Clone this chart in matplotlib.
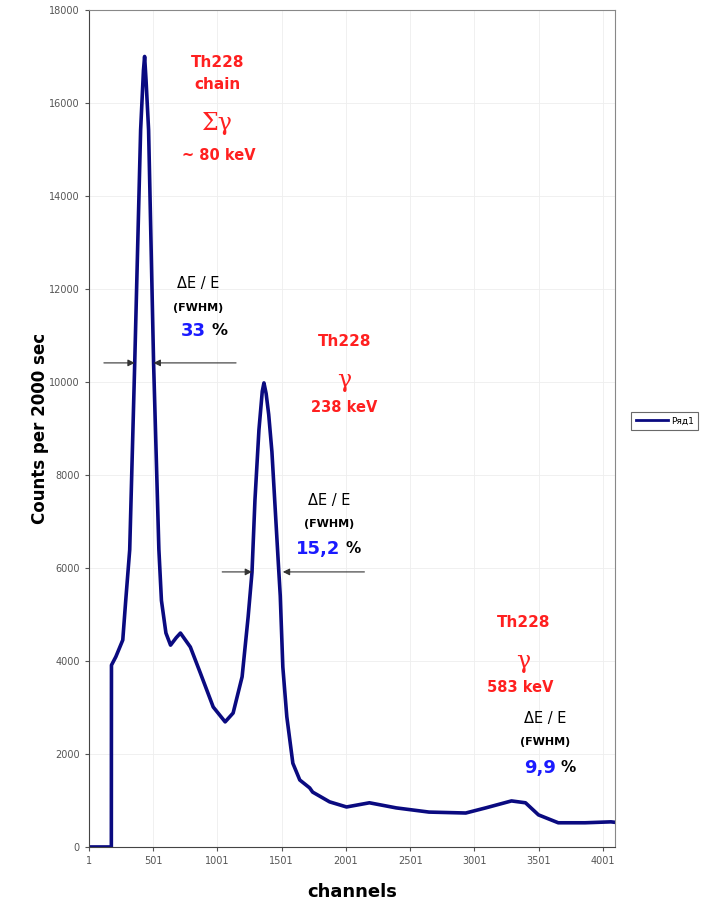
import numpy as np
import matplotlib.pyplot as plt

# spectrum (channel, counts per 2000 s)
channels = [1, 175, 176, 210, 264, 287, 318, 357, 403, 425, 434, 445, 465, 504,
            545, 565, 600, 636, 680, 713, 790, 868, 968, 1061, 1123, 1193, 1240,
            1270, 1293, 1324, 1350, 1363, 1380, 1400, 1425, 1450, 1475, 1490,
            1510, 1541, 1588, 1642, 1719, 1742, 1874, 2006, 2184, 2393, 2648,
            2934, 3089, 3290, 3399, 3500, 3654, 3863, 4064, 4096]
counts = [0, 0, 3910, 4090, 4450, 5300, 6390, 10400, 15420, 16700, 17000, 16500,
          15420, 10400, 6400, 5300, 4600, 4340, 4500, 4600, 4300, 3740, 3010,
          2690, 2880, 3660, 4950, 5910, 7460, 8970, 9800, 9980, 9750, 9300,
          8500, 7300, 6100, 5400, 3870, 2800, 1800, 1440, 1270, 1180, 970, 860,
          950, 840, 750, 730, 840, 990, 950, 690, 520, 520, 540, 530]

xticks = [1, 501, 1001, 1501, 2001, 2501, 3001, 3501, 4001]
yticks = list(range(0, 18001, 2000))

red = '#ff2020'
blue = '#1a1aff'

fig = plt.figure(figsize=(7.13, 9.07), dpi=100)
ax = fig.add_axes([0.1248, 0.0662, 0.8626 - 0.1248, 0.989 - 0.0662])

ax.plot(channels, counts, color='#0a0a80', lw=2.6, label='Ряд1')

ax.set_xlim(1, 4096)
ax.set_ylim(0, 18000)
ax.set_xticks(xticks)
ax.set_yticks(yticks)
ax.tick_params(labelsize=7, labelcolor='#555555', color='#555555', length=3)
ax.grid(True, color='#eeeeee', lw=0.6)
ax.set_axisbelow(True)
for s in ax.spines.values():
    s.set_color('#888888')
ax.spines['left'].set_color('#444444')
ax.spines['bottom'].set_color('#444444')

ax.set_ylabel('Counts per 2000 sec', fontsize=12, fontweight='bold', labelpad=0)
ax.set_xlabel('channels', fontsize=13, fontweight='bold', labelpad=12)

# annotations
def txt(x, y, s, color='black', size=11, weight='bold', family=None):
    kw = {}
    if family:
        kw['family'] = family
    ax.text(x, y, s, color=color, fontsize=size, fontweight=weight,
            ha='center', va='center', **kw)

txt(999, 16880, 'Th228', red, 11)
txt(999, 16390, 'chain', red, 11)
txt(999, 15550, 'Σγ', red, 17, 'normal', 'DejaVu Serif')
txt(1010, 14880, '~ 80 keV', red, 10.5)

txt(852, 12110, 'ΔE / E', 'black', 10.5, 'normal')
txt(852, 11590, '(FWHM)', 'black', 8)
txt(814, 11100, '33', blue, 13)
txt(1015, 11100, '%', 'black', 11.5)

txt(1990, 10860, 'Th228', red, 11)
txt(1990, 10040, 'γ', red, 17, 'normal', 'DejaVu Serif')
txt(1990, 9460, '238 keV', red, 10.5)

txt(1874, 7460, 'ΔE / E', 'black', 10.5, 'normal')
txt(1874, 6950, '(FWHM)', 'black', 8)
txt(1781, 6410, '15,2', blue, 13)
txt(2060, 6410, '%', 'black', 11)

txt(3383, 4820, 'Th228', red, 11)
txt(3383, 3980, 'γ', red, 17, 'normal', 'DejaVu Serif')
txt(3360, 3420, '583 keV', red, 10.5)

txt(3554, 2770, 'ΔE / E', 'black', 10.5, 'normal')
txt(3554, 2260, '(FWHM)', 'black', 8)
txt(3515, 1700, '9,9', blue, 13)
txt(3732, 1700, '%', 'black', 11)

# FWHM arrows
arrow = dict(arrowstyle='-|>', color='#333333', lw=0.8, mutation_scale=10,
             shrinkA=0, shrinkB=0)
ax.annotate('', xy=(357, 10410), xytext=(117, 10410), arrowprops=arrow)
ax.annotate('', xy=(504, 10410), xytext=(1146, 10410), arrowprops=arrow)
ax.annotate('', xy=(1270, 5915), xytext=(1038, 5915), arrowprops=arrow)
ax.annotate('', xy=(1510, 5915), xytext=(2145, 5915), arrowprops=arrow)

leg = ax.legend(loc='center left', bbox_to_anchor=(1.022, 0.509), fontsize=6.5,
                frameon=True, fancybox=False, edgecolor='#444444',
                handlelength=3.6, handletextpad=0.3, borderpad=0.5)
leg.get_frame().set_linewidth(0.8)
for line in leg.get_lines():
    line.set_linewidth(2)

fig.savefig('out.png', dpi=100)
